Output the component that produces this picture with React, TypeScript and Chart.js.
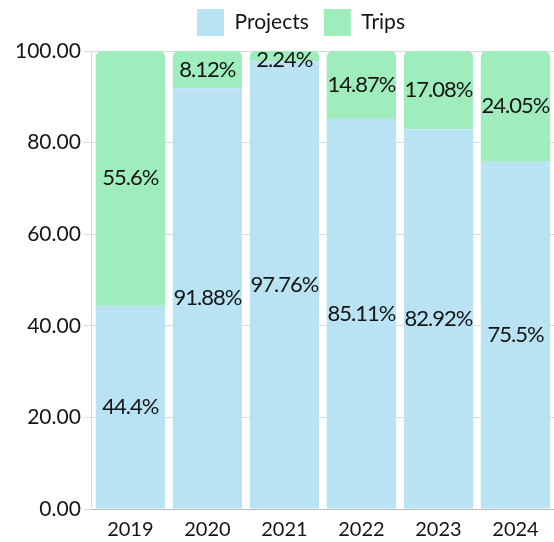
import React, { useEffect, useRef } from "react";
import { Chart, registerables } from "chart.js";

Chart.register(...registerables);

const categories = ["2019", "2020", "2021", "2022", "2023", "2024"];
const projects = [44.4, 91.88, 97.76, 85.11, 82.92, 75.5];
const trips = [55.6, 8.12, 2.24, 14.87, 17.08, 24.05];
const seriesNames = ["Projects", "Trips"];
const yTicks = [0, 20, 40, 60, 80, 100];

const FONT = "Lato";

// 100% stacked: each year's stack is scaled to its total
const totals = categories.map((_, i) => projects[i] + trips[i]);
const share = (arr: number[]) => arr.map((v, i) => (v / totals[i]) * 100);
const rawLabels = [projects, trips];

const legendTweak = {
  id: "legendTweak",
  beforeInit(chart: any) {
    const legend = chart.legend;
    if (!legend) return;
    const fit = legend.fit;
    legend.fit = function () {
      fit.call(this);
      this.height += 5;
    };
    const draw = legend.draw;
    legend.draw = function (...args: any[]) {
      const ctx = this.ctx;
      ctx.save();
      ctx.translate(18, 0);
      draw.apply(this, args);
      ctx.restore();
    };
  },
};

const labelPlugin = {
  id: "segmentLabels",
  afterDatasetsDraw(chart: any) {
    const { ctx, chartArea } = chart;
    ctx.save();
    ctx.font = `22px ${FONT}`;
    (ctx as any).letterSpacing = "-1px";
    ctx.fillStyle = "#151515";
    ctx.textAlign = "center";
    ctx.textBaseline = "middle";
    chart.data.datasets.forEach((ds: any, di: number) => {
      const meta = chart.getDatasetMeta(di);
      meta.data.forEach((bar: any, i: number) => {
        const v = rawLabels[di][i];
        const props = bar.getProps(["x", "y", "base"], true);
        let y = (props.y + props.base) / 2;
        const half = 9;
        if (y - half < chartArea.top) y = chartArea.top + half;
        ctx.fillText(`${v}%`, props.x, y);
      });
    });
    ctx.restore();
  },
};

export default function App() {
  const ref = useRef<HTMLCanvasElement>(null);
  useEffect(() => {
    if (!ref.current) return;
    const chart = new Chart(ref.current, {
      type: "bar",
      data: {
        labels: categories,
        datasets: [
          {
            label: seriesNames[0],
            data: share(projects),
            backgroundColor: "#B9E2F2",
            borderWidth: 0,
          },
          {
            label: seriesNames[1],
            data: share(trips),
            backgroundColor: "#9FECBC",
            borderWidth: 0,
            borderRadius: { topLeft: 6, topRight: 6, bottomLeft: 0, bottomRight: 0 },
            borderSkipped: false,
          },
        ],
      },
      options: {
        animation: false,
        responsive: false,
        layout: { padding: { left: 12, right: 0, top: -6, bottom: -1 } },
        datasets: { bar: { barPercentage: 0.9, categoryPercentage: 1 } },
        plugins: {
          legend: {
            display: true,
            position: "top",
            labels: {
              boxWidth: 27,
              boxHeight: 27,
              color: "#151515",
              font: { family: FONT, size: 21 },
              padding: 15,
            },
          },
          tooltip: { enabled: false },
        },
        scales: {
          x: {
            stacked: true,
            grid: { display: false },
            border: { display: true, color: "rgba(0,0,0,0.15)" },
            ticks: { color: "#151515", padding: 1, font: { family: FONT, size: 20 } },
          },
          y: {
            stacked: true,
            min: yTicks[0],
            max: yTicks[yTicks.length - 1],
            afterBuildTicks: (axis: any) => {
              axis.ticks = yTicks.map((v) => ({ value: v }));
            },
            ticks: {
              color: "#151515",
              font: { family: FONT, size: 21 },
              callback: (v: any) => Number(v).toFixed(2),
            },
            grid: { color: "rgba(0,0,0,0.15)" },
            border: { display: true, color: "rgba(0,0,0,0.15)" },
          },
        },
      },
      plugins: [legendTweak, labelPlugin],
    });
    return () => chart.destroy();
  }, []);
  return (
    <div style={{ position: "absolute", left: 0, top: 0, width: 554, height: 542 }}>
      <canvas ref={ref} width={554} height={542} style={{ width: 554, height: 542 }} />
    </div>
  );
}
